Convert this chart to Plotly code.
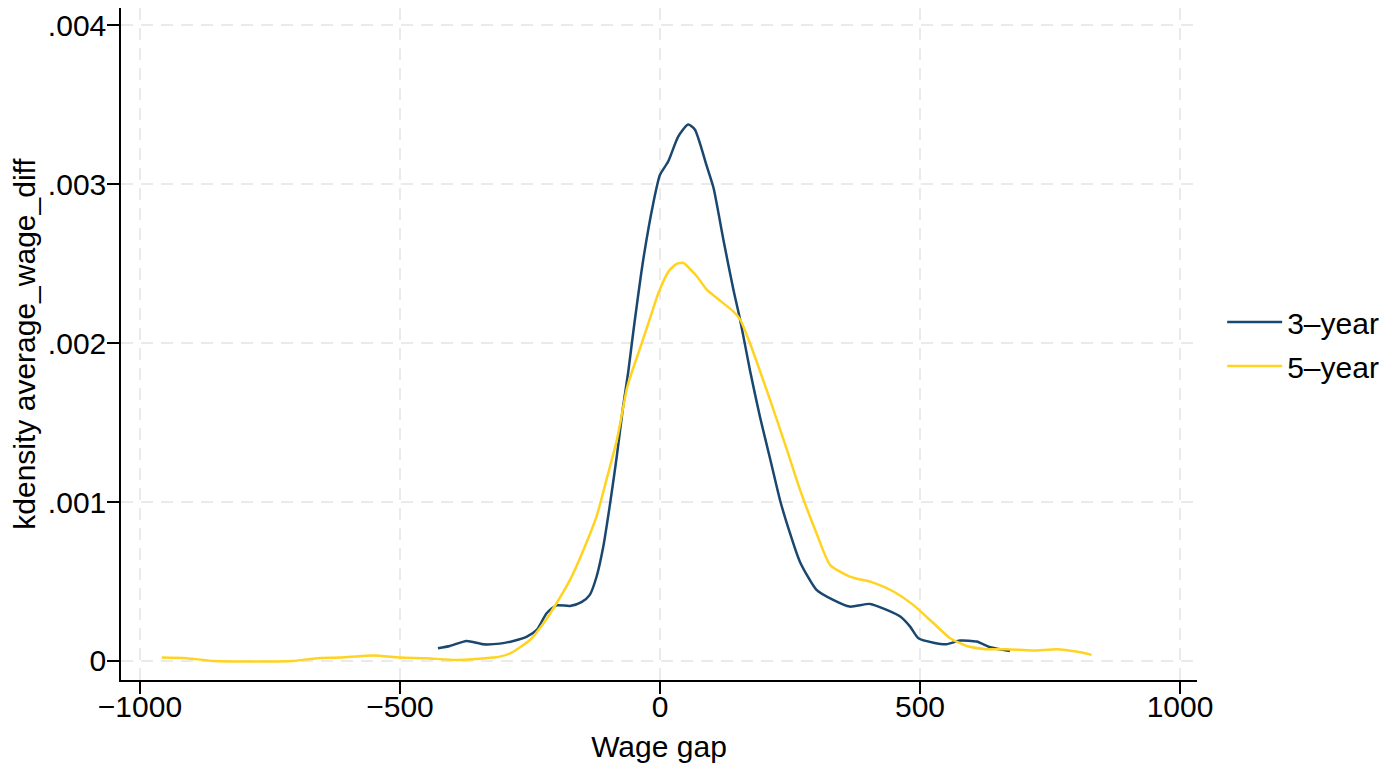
import plotly.graph_objects as go

# Kernel density estimates of the wage gap
X_3YR = [-427, -404, -372, -340, -308, -282, -256, -237, -218, -199, -173, -151,
         -135, -122, -109, -96, -83, -71, -61, -51, -32, -13, 0, 16, 35, 54, 67,
         90, 103, 122, 141, 154, 173, 192, 212, 231, 250, 269, 301, 333, 365,
         404, 436, 462, 481, 497, 526, 551, 577, 609, 635, 673]
Y_3YR = [0.080, 0.094, 0.126, 0.105, 0.109, 0.126, 0.153, 0.195, 0.300, 0.350,
         0.346, 0.370, 0.416, 0.530, 0.720, 0.990, 1.290, 1.600, 1.820, 2.080,
         2.530, 2.880, 3.060, 3.145, 3.300, 3.376, 3.345, 3.114, 2.977, 2.650,
         2.340, 2.150, 1.830, 1.540, 1.270, 1.010, 0.804, 0.625, 0.447, 0.384,
         0.342, 0.359, 0.321, 0.279, 0.216, 0.143, 0.115, 0.105, 0.128, 0.122,
         0.086, 0.063]

X_5YR = [-958, -910, -859, -705, -660, -615, -551, -500, -449, -391, -321, -308,
         -288, -250, -224, -199, -173, -147, -122, -103, -83, -64, -58, -35, -16,
         -3, 16, 32, 45, 71, 90, 109, 141, 154, 173, 212, 244, 269, 301, 327, 365,
         410, 449, 487, 526, 558, 590, 628, 667, 718, 763, 801, 830]
Y_5YR = [0.021, 0.017, 0.000, 0.000, 0.017, 0.021, 0.034, 0.022, 0.017, 0.006,
         0.021, 0.027, 0.048, 0.132, 0.237, 0.363, 0.510, 0.700, 0.910, 1.140,
         1.390, 1.710, 1.780, 2.000, 2.190, 2.316, 2.450, 2.500, 2.505, 2.420,
         2.337, 2.285, 2.200, 2.150, 2.000, 1.640, 1.330, 1.080, 0.804, 0.605,
         0.531, 0.493, 0.437, 0.353, 0.237, 0.143, 0.094, 0.074, 0.074, 0.065,
         0.074, 0.059, 0.038]

X_TICKS = [-1000, -500, 0, 500, 1000]
Y_TICKS = [0, 0.001, 0.002, 0.003, 0.004]
Y_TICKTEXT = ["0", ".001", ".002", ".003", ".004"]

NAVY = "#1a476f"
GOLD = "#ffd320"
FONT = "Liberation Sans, Arial, sans-serif"
GRID = "#eaeaea"
FS = 30

fig = go.Figure()

fig.add_trace(go.Scatter(
    x=X_3YR, y=[v / 1000 for v in Y_3YR],
    mode="lines", name="3\u2013year",
    line=dict(color=NAVY, width=2.5, shape="spline", smoothing=0.6),
    legendgroup="a",
))
fig.add_trace(go.Scatter(
    x=X_5YR, y=[v / 1000 for v in Y_5YR],
    mode="lines", name="5\u2013year",
    line=dict(color=GOLD, width=2.5, shape="spline", smoothing=0.6),
    legendgroup="b",
))

axis_common = dict(
    showline=True, linecolor="black", linewidth=1.5,
    ticks="outside", ticklen=12, tickwidth=1.5, tickcolor="black",
    showgrid=True, gridcolor=GRID, gridwidth=2, griddash="12px,8px",
    zeroline=False, tickfont=dict(size=FS, color="black"),
    automargin=False,
)

# the page body adds an 8px offset, so margins are trimmed to compensate
fig.update_layout(
    width=1397, height=771,
    margin=dict(l=113, r=208, t=0, b=99),
    plot_bgcolor="white", paper_bgcolor="white",
    font=dict(family=FONT, size=FS, color="black"),
    xaxis=dict(
        range=[-1036.5, 1032.7], tickvals=X_TICKS, ticklabelstandoff=-13,
        title=dict(text="Wage gap", font=dict(size=FS), standoff=14),
        **axis_common,
    ),
    yaxis=dict(
        range=[-0.00012, 0.00411], tickvals=Y_TICKS, ticktext=Y_TICKTEXT,
        ticklabelstandoff=-5,
        title=dict(text="kdensity average_wage_diff", font=dict(size=FS), standoff=4),
        **axis_common,
    ),
    legend=dict(
        x=1.0234, xanchor="left", y=0.5, yanchor="middle",
        font=dict(size=FS), tracegroupgap=2, itemwidth=55,
        bgcolor="rgba(0,0,0,0)",
    ),
)

fig.write_html("out.html")
